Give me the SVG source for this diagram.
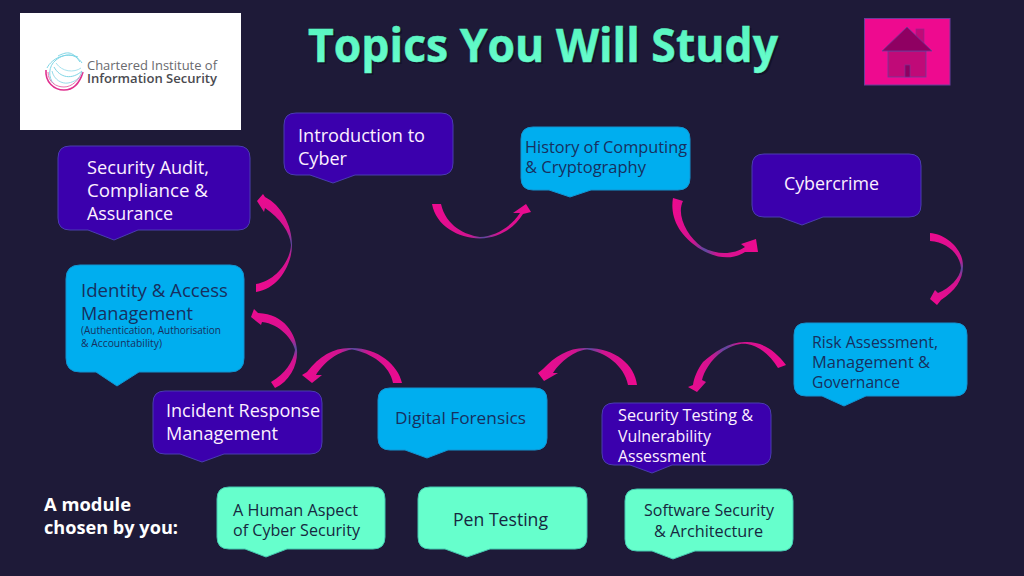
<svg xmlns="http://www.w3.org/2000/svg" width="1024" height="576" viewBox="0 0 1024 576">
<style>
text{font-family:"Open Sans","Noto Sans","Liberation Sans",sans-serif}
.p{fill:#3b00ad;stroke:#4a3cb0;stroke-width:1}
.b{fill:#00aeef;stroke:#1293d0;stroke-width:1}
.m{fill:#66ffcc;stroke:#45c8b0;stroke-width:1}
.lt{fill:#fdf0ff;font-size:18.500px}
.dk{fill:#17305f;font-size:18.500px}
.gr{fill:#16283f;font-size:16.500px}
.a{fill:url(#ag)}
.a2{fill:url(#ag2)}
.v{fill:url(#av)}
</style>
<defs>
<linearGradient id="ag" x1="0" y1="0" x2="1" y2="0"><stop offset="0" stop-color="#ee0a8f"/><stop offset="0.38" stop-color="#d01490"/><stop offset="0.52" stop-color="#5a4aa0"/><stop offset="0.66" stop-color="#d01490"/><stop offset="1" stop-color="#ee0a8f"/></linearGradient>
<linearGradient id="ag2" x1="0" y1="0" x2="1" y2="0"><stop offset="0" stop-color="#ee0a8f"/><stop offset="0.24" stop-color="#d01490"/><stop offset="0.38" stop-color="#5a4aa0"/><stop offset="0.52" stop-color="#d01490"/><stop offset="1" stop-color="#ee0a8f"/></linearGradient>
<linearGradient id="av" x1="0" y1="0" x2="0" y2="1"><stop offset="0" stop-color="#ee0a8f"/><stop offset="0.36" stop-color="#d01490"/><stop offset="0.5" stop-color="#5a4aa0"/><stop offset="0.64" stop-color="#d01490"/><stop offset="1" stop-color="#ee0a8f"/></linearGradient>
<linearGradient id="ti" x1="0" y1="0" x2="0" y2="1"><stop offset="0" stop-color="#52f2bb"/><stop offset="1" stop-color="#6cffd0"/></linearGradient>
</defs>
<rect width="1024" height="576" fill="#1e1a38"/>
<g id="logo">
<rect x="20" y="13" width="221" height="117" fill="#fff"/>
<g fill="none" stroke-width="1">
<path d="M80 62C72 50 66 52 58 56" stroke="#7fd6e6"/>
<path d="M82 63C76 54 66 52 56 60C48 66 48 78 54 84" stroke="#7fd6e6"/>
<path d="M78 57C66 52 52 58 47 68" stroke="#7fd6e6"/>
<path d="M46 70C45 82 54 90 64 90C74 90 80 82 83 72" stroke="#e0308f" stroke-width="1.6"/>
<path d="M48 72C48 82 56 87 64 87C72 87 79 80 82 72" stroke="#e874b0"/>
<path d="M52 71C54 80 62 84 68 83C75 82 80 78 82 72" stroke="#98dcea"/>
<path d="M54 67C60 78 72 80 82 71" stroke="#7fd6e6"/>
<path d="M56 63C62 72 74 73 81 68" stroke="#a8e2ee"/>
</g>
<text x="87" y="70" font-size="12.500" fill="#6a6a6e" textLength="130" lengthAdjust="spacingAndGlyphs">Chartered Institute of</text>
<text x="87" y="83" font-size="12.500" font-weight="600" fill="#4a4a50" textLength="130" lengthAdjust="spacingAndGlyphs">Information Security</text>
</g>
<g id="title">
<text x="310" y="64" font-size="46" font-weight="700" fill="#0d0b1c" opacity=".55" textLength="470" lengthAdjust="spacingAndGlyphs">Topics You Will Study</text>
<text x="308" y="62" font-size="46" font-weight="700" fill="url(#ti)" stroke="#5ff5c3" stroke-width=".5" textLength="470" lengthAdjust="spacingAndGlyphs">Topics You Will Study</text>
</g>
<g id="home">
<rect x="864.500" y="18.500" width="85.500" height="66.500" fill="#ee0a8f" stroke="#6a3d9a" stroke-width="1"/>
<rect x="916" y="29" width="8" height="16" fill="#c00a78" stroke="#8a2a90" stroke-width=".6"/>
<rect x="888" y="51" width="38" height="26" fill="#c00a78" stroke="#6a3d9a" stroke-width=".8"/>
<path d="M907 27L932 51H882Z" fill="#8f0062" stroke="#6a3d9a" stroke-width=".8"/>
<rect x="905" y="65" width="5" height="12" fill="#8f0062" stroke="#6a3d9a" stroke-width=".6"/>
</g>
<g id="connectors">
<path class="a" d="M432 204C436 226 458 238 480 238.500C500 238 514 228 523 214L531 212L526 204L513 213L520 213C510 228 495 236 480 237C465 235 446 226 441 204Z"/>
<path class="a2" d="M673 198C670 215 677 235 702 250C712 256 730 262 745 252L758 252L756 239L741 244L745 247C735 254 718 256 702 247C687 236 676 215 683 201Z"/>
<path class="v" d="M930 233C945 234 963 248 963 266C963 280 955 291 941 300L937 305L930 299L935 290L938 293C950 288 960 278 961 268C960 255 948 242 930 241Z"/>
<path class="a2" d="M786 365C775 350 762 342 747 342C730 341 714 352 703 362C697 370 694 378 693 385L688 387L697 392L706 382L702 380C704 372 710 360 723 351C733 345 740 343 747 344C760 346 771 356 778 368Z"/>
<path class="a" d="M637 385C635 365 615 348 587 348C570 347 555 356 543 369L538 373L544 381L558 373L553 373C560 362 575 350 587 349.500C605 352 624 365 628 385Z"/>
<path class="a" d="M402 383C398 365 378 348 352 348C335 347 320 355 307 372L302 375L312 383L322 375L316 375C322 365 335 352 352 349.500C372 353 390 366 393 383Z"/>
<path class="v" d="M275 388C290 381 298 365 297 350C296 335 285 314 258 313L254 309L251 317L261 325L262 322C280 324 293 340 295 350C293 362 285 374 271 382Z"/>
<path class="v" d="M256 292C278 289 292 265 292 245C292 225 281 205 265 197L263 194L257 201L264 212L265 208C280 218 290 232 291 245C290 262 275 281 256 284Z"/>
</g>
<g id="audit"><path class="p" d="M70 146H238Q250 146 250 158V218Q250 230 238 230H138L114 240L88 230H70Q58 230 58 218V158Q58 146 70 146Z"/>
<text class="lt" x="87" y="174" textLength="122" lengthAdjust="spacingAndGlyphs">Security Audit,</text><text class="lt" x="87" y="197" textLength="121" lengthAdjust="spacingAndGlyphs">Compliance &amp;</text><text class="lt" x="87" y="220" textLength="86" lengthAdjust="spacingAndGlyphs">Assurance</text></g>
<g id="intro"><path class="p" d="M296 113H441Q453 113 453 125V163Q453 175 441 175H355L333 183L310 175H296Q284 175 284 163V125Q284 113 296 113Z"/>
<text class="lt" x="298" y="142" textLength="127" lengthAdjust="spacingAndGlyphs">Introduction to</text><text class="lt" x="298" y="165" textLength="49" lengthAdjust="spacingAndGlyphs">Cyber</text></g>
<g id="history"><path class="b" d="M533 127H678Q690 127 690 139V178Q690 190 678 190H591L570 197L549 190H533Q521 190 521 178V139Q521 127 533 127Z"/>
<text class="dk" style="font-size:16.500px" x="525" y="153" textLength="162" lengthAdjust="spacingAndGlyphs">History of Computing</text><text class="dk" style="font-size:16.500px" x="525" y="173" textLength="121" lengthAdjust="spacingAndGlyphs">&amp; Cryptography</text></g>
<g id="cybercrime"><path class="p" d="M764 154H909Q921 154 921 166V205Q921 217 909 217H823L802 225L780 217H764Q752 217 752 205V166Q752 154 764 154Z"/>
<text class="lt" style="font-size:17.500px" x="784" y="190" textLength="95" lengthAdjust="spacingAndGlyphs">Cybercrime</text></g>
<g id="identity"><path class="b" d="M80 265H230Q244 265 244 279V358Q244 372 230 372H139L117 386L96 372H80Q66 372 66 358V279Q66 265 80 265Z"/>
<text class="dk" x="81" y="297" textLength="147" lengthAdjust="spacingAndGlyphs">Identity &amp; Access</text><text class="dk" x="81" y="320" textLength="112" lengthAdjust="spacingAndGlyphs">Management</text>
<text class="dk" style="font-size:10px" x="81" y="334" textLength="140" lengthAdjust="spacingAndGlyphs">(Authentication, Authorisation</text><text class="dk" style="font-size:10px" x="81" y="347" textLength="81" lengthAdjust="spacingAndGlyphs">&amp; Accountability)</text></g>
<g id="incident"><path class="p" d="M165 391H310Q322 391 322 403V442Q322 454 310 454H224L202 462L180 454H165Q153 454 153 442V403Q153 391 165 391Z"/>
<text class="lt" x="166" y="417" textLength="154" lengthAdjust="spacingAndGlyphs">Incident Response</text><text class="lt" x="166" y="440" textLength="112" lengthAdjust="spacingAndGlyphs">Management</text></g>
<g id="forensics"><path class="b" d="M390 388H535Q547 388 547 400V438Q547 450 535 450H448L427 458L405 450H390Q378 450 378 438V400Q378 388 390 388Z"/>
<text class="dk" style="font-size:17px" x="395" y="424" textLength="131" lengthAdjust="spacingAndGlyphs">Digital Forensics</text></g>
<g id="testing"><path class="p" d="M614 403H759Q771 403 771 415V453Q771 465 759 465H672L652 473L630 465H614Q602 465 602 453V415Q602 403 614 403Z"/>
<text class="lt" style="font-size:16.500px" x="618" y="421" textLength="135" lengthAdjust="spacingAndGlyphs">Security Testing &amp;</text><text class="lt" style="font-size:16.500px" x="618" y="442" textLength="93" lengthAdjust="spacingAndGlyphs">Vulnerability</text><text class="lt" style="font-size:16.500px" x="618" y="462" textLength="88" lengthAdjust="spacingAndGlyphs">Assessment</text></g>
<g id="risk"><path class="b" d="M806 323H955Q967 323 967 335V384Q967 396 955 396H866L844 406L822 396H806Q794 396 794 384V335Q794 323 806 323Z"/>
<text class="dk" style="font-size:16.500px" x="812" y="348" textLength="126" lengthAdjust="spacingAndGlyphs">Risk Assessment,</text><text class="dk" style="font-size:16.500px" x="812" y="368" textLength="118" lengthAdjust="spacingAndGlyphs">Management &amp;</text><text class="dk" style="font-size:16.500px" x="812" y="388" textLength="88" lengthAdjust="spacingAndGlyphs">Governance</text></g>
<g id="chosen"><text x="44" y="511" font-size="18" font-weight="700" fill="#fff" textLength="87" lengthAdjust="spacingAndGlyphs">A module</text><text x="44" y="534" font-size="18" font-weight="700" fill="#fff" textLength="134" lengthAdjust="spacingAndGlyphs">chosen by you:</text></g>
<g id="human"><path class="m" d="M229 487H373Q385 487 385 499V537Q385 549 373 549H287L266 557L245 549H229Q217 549 217 537V499Q217 487 229 487Z"/>
<text class="gr" x="233" y="516" textLength="125" lengthAdjust="spacingAndGlyphs">A Human Aspect</text><text class="gr" x="233" y="536" textLength="127" lengthAdjust="spacingAndGlyphs">of Cyber Security</text></g>
<g id="pen"><path class="m" d="M430 487H575Q587 487 587 499V537Q587 549 575 549H490L467 557L445 549H430Q418 549 418 537V499Q418 487 430 487Z"/>
<text class="gr" style="font-size:18px" x="453" y="526" textLength="95" lengthAdjust="spacingAndGlyphs">Pen Testing</text></g>
<g id="software"><path class="m" d="M637 489H781Q793 489 793 501V539Q793 551 781 551H695L673 559L652 551H637Q625 551 625 539V501Q625 489 637 489Z"/>
<text class="gr" x="644" y="516" textLength="130" lengthAdjust="spacingAndGlyphs">Software Security</text><text class="gr" x="654" y="537" textLength="109" lengthAdjust="spacingAndGlyphs">&amp; Architecture</text></g>
</svg>
